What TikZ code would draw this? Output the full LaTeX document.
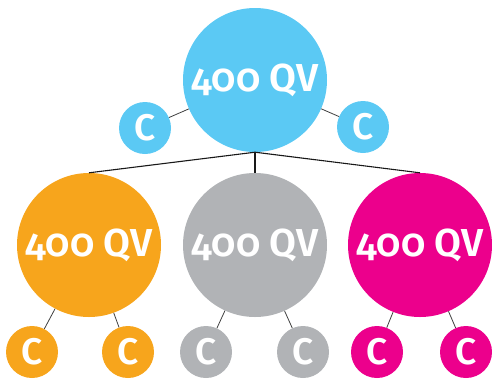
\documentclass[tikz,border=0pt]{standalone}
\usepackage{fontspec}
\setmainfont{Fira Sans}[Numbers=OldStyle,BoldFont={Fira Sans SemiBold}]
\definecolor{cblue}{HTML}{5BC9F4}
\definecolor{corange}{HTML}{F7A51C}
\definecolor{cgray}{HTML}{B1B3B6}
\definecolor{cmag}{HTML}{EC008C}
\tikzset{
  big/.style={circle,fill=#1,minimum size=144pt,inner sep=0pt,text=white,font=\fontsize{39}{42}\selectfont\bfseries},
  small/.style={circle,fill=#1,minimum size=52pt,inner sep=0pt,text=white,font=\fontsize{37}{40}\selectfont\bfseries},
  link/.style={draw=black!75,line width=0.8pt},
  branch/.style={draw=black!90,line width=1.1pt}
}
\begin{document}
\begin{tikzpicture}[x=1pt,y=-1pt]
\useasboundingbox (0,0) rectangle (492,381);
\node[big=cblue] (top) at (255,80) {400 QV};
\node[small=cblue] (tl) at (145,128) {C};
\node[small=cblue] (tr) at (363,127) {C};
\node[big=corange] (o) at (89,245) {400 QV};
\node[big=cgray] (g) at (255,245) {400 QV};
\node[big=cmag] (m) at (420,245) {400 QV};
\node[small=corange] (o1) at (32,352) {C};
\node[small=corange] (o2) at (128,352) {C};
\node[small=cgray] (g1) at (206,352) {C};
\node[small=cgray] (g2) at (303,352) {C};
\node[small=cmag] (m1) at (377,352) {C};
\node[small=cmag] (m2) at (466,352) {C};
\draw[link] (top) -- (tl);
\draw[link] (top) -- (tr);
\draw[link] (o) -- (o1);
\draw[link] (o) -- (o2);
\draw[link] (g) -- (g1);
\draw[link] (g) -- (g2);
\draw[link] (m) -- (m1);
\draw[link] (m) -- (m2);
\draw[branch] (top.south) -- (o.north);
\draw[branch] (top.south) -- (g.north);
\draw[branch] (top.south) -- (m.north);
\end{tikzpicture}
\end{document}
